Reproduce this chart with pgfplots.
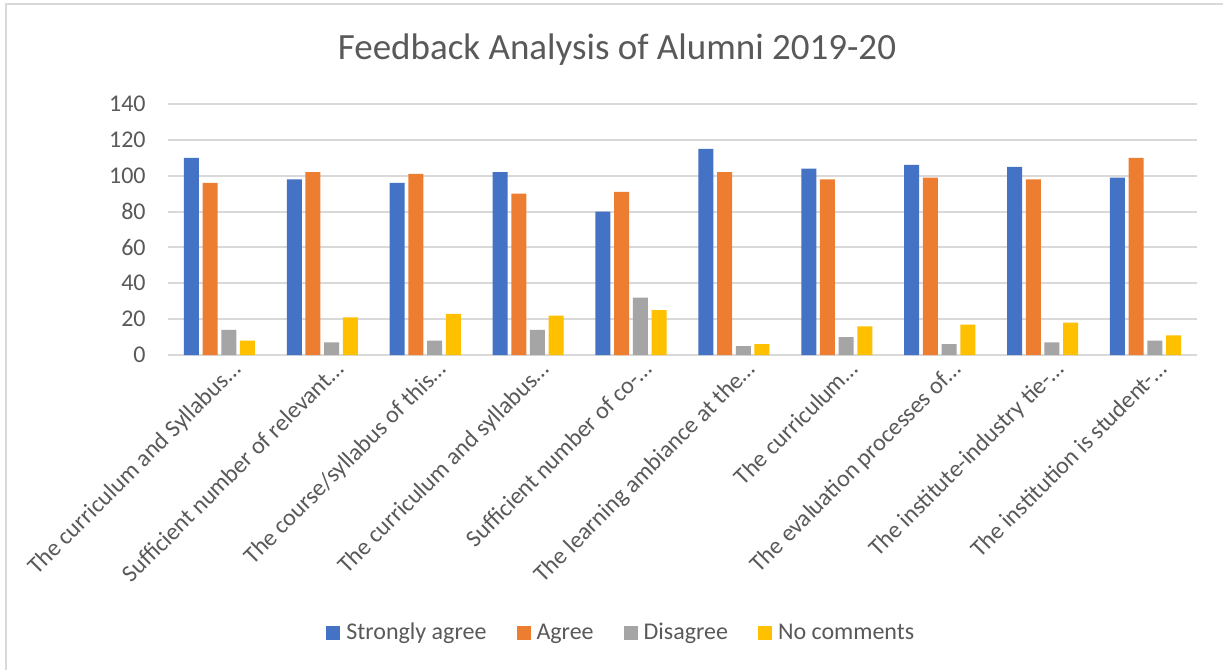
\documentclass[border=0pt]{standalone}
\usepackage{fontspec}
\setmainfont{Carlito}
\usepackage{pgfplots}
\pgfplotsset{compat=1.18}
\definecolor{cblue}{HTML}{4472C4}
\definecolor{corange}{HTML}{ED7D31}
\definecolor{cgray}{HTML}{A5A5A5}
\definecolor{cyellow}{HTML}{FFC000}
\definecolor{gridgray}{HTML}{D9D9D9}
\definecolor{textgray}{HTML}{595959}
\begin{document}
\begin{tikzpicture}
\useasboundingbox (0,0) rectangle (611.5pt,335pt);
\fill[white] (0,0) rectangle (611.5pt,335pt);
\draw[gridgray, line width=1pt] (2.75pt,-5pt) -- (2.75pt,332.75pt) -- (620pt,332.75pt);
\node[text=textgray, font=\fontsize{18.5}{22}\selectfont] at (308.5pt,310pt) {Feedback Analysis of Alumni 2019-20};
\begin{axis}[
  at={(84pt,157.5pt)}, anchor=south west,
  width=514.5pt, height=125.5pt, scale only axis,
  ymin=0, ymax=140, ytick={0,20,...,140},
  xmin=-0.5, xmax=9.5, xtick={0,...,9},
  xticklabels={The curriculum and Syllabus…,Sufficient number of relevant…,The course/syllabus of this…,The curriculum and syllabus…,Sufficient number of co-…,The learning ambiance at the…,The curriculum…,The evaluation processes of…,The institute-industry tie-…,The institution is student-…},
  ybar=1.85pt, bar width=7.5pt,
  axis line style={draw=none},
  major tick length=0pt,
  ymajorgrids, grid style={gridgray, line width=1pt},
  tick label style={text=textgray, font=\fontsize{12}{14}\selectfont},
  yticklabel style={anchor=east, inner sep=0pt, xshift=-11pt},
  xticklabel style={rotate=45, anchor=north east, inner sep=0pt, xshift=2.5pt, yshift=-5pt},
  /pgf/number format/assume math mode=true,
  legend columns=-1,
  legend style={at={(0.4425,-1.1076)}, anchor=center, draw=none, fill=none,
    font=\fontsize{12}{14}\selectfont, text=textgray,
    /tikz/every even column/.append style={column sep=12pt},
    nodes={inner ysep=1.5pt, inner xsep=3pt}},
  legend image code/.code={\fill[#1] (0pt,-3.5pt) rectangle (7pt,3.5pt);},
]
\addplot[fill=cblue, draw=none] coordinates {(0,110) (1,98) (2,96) (3,102) (4,80) (5,115) (6,104) (7,106) (8,105) (9,99)};
\addplot[fill=corange, draw=none] coordinates {(0,96) (1,102) (2,101) (3,90) (4,91) (5,102) (6,98) (7,99) (8,98) (9,110)};
\addplot[fill=cgray, draw=none] coordinates {(0,14) (1,7) (2,8) (3,14) (4,32) (5,5) (6,10) (7,6) (8,7) (9,8)};
\addplot[fill=cyellow, draw=none] coordinates {(0,8) (1,21) (2,23) (3,22) (4,25) (5,6) (6,16) (7,17) (8,18) (9,11)};
\legend{Strongly agree,Agree,Disagree,No comments}
\end{axis}
\end{tikzpicture}
\end{document}
